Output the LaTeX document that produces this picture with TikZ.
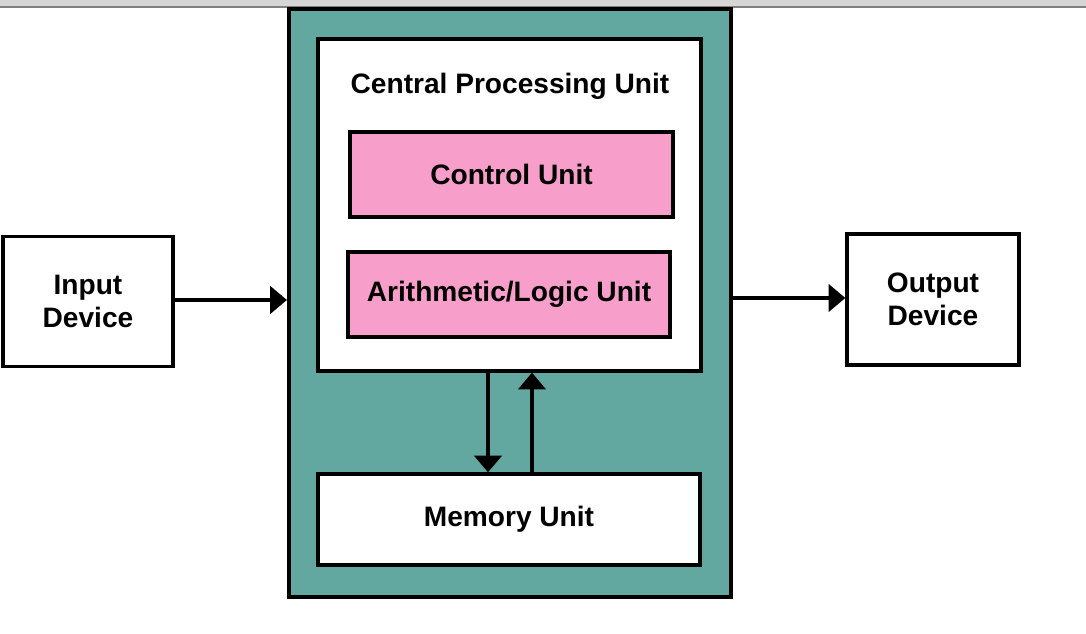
\documentclass[tikz,border=0pt]{standalone}
\usepackage{fontspec}
\setmainfont{Liberation Sans}
\usetikzlibrary{arrows.meta}

\definecolor{teal}{RGB}{99,168,160}
\definecolor{pink}{RGB}{248,158,202}
\definecolor{bar}{RGB}{214,214,214}

\tikzset{
    unit/.style={draw,line width=1.9pt,align=center,font=\bfseries\fontsize{16}{19}\selectfont,inner sep=0pt},
    flow/.style={line width=1.9pt,-{Triangle[length=9.5pt,width=15.5pt]}}
}

\begin{document}
\begin{tikzpicture}[x=0.02cm,y=-0.02cm]
            \useasboundingbox (0,0) rectangle (1086,634);
            \fill[bar] (0,0) rectangle (1086,7);
            \draw[gray,line width=0.6pt] (0,7)--(1086,7);
            % computer
            \node[unit,fill=teal,line width=2.4pt,minimum width=8.84cm,minimum height=11.76cm] (sys) at (510,303){};
            \node[unit,fill=white,minimum width=7.66cm,minimum height=6.64cm] (cpu) at (509.5,205){};
            \node[font=\bfseries\fontsize{16}{19}\selectfont] (title) at (510,86){Central Processing Unit};
            \node[unit,fill=pink,minimum width=6.46cm,minimum height=1.7cm] (cu) at (511.5,174.5){Control Unit};
            \node[unit,fill=pink,minimum width=6.44cm,minimum height=1.7cm] (alu) at (509,294.5){Arithmetic/Logic Unit};
            \node[unit,fill=white,minimum width=7.64cm,minimum height=1.82cm] (mem) at (509,519.5){Memory Unit};
            % devices
            \node[unit,fill=white,minimum width=3.4cm,minimum height=2.6cm] (in) at (88,301.5){Input\\Device};
            \node[unit,fill=white,minimum width=3.44cm,minimum height=2.62cm] (out) at (933,299.5){Output\\Device};
            \draw[flow] (in.east|-0,300)--(sys.west|-0,300);
            \draw[flow] (sys.east|-0,298)--(out.west|-0,298);
            \draw[flow] (cpu.south-|488,0)--(mem.north-|488,0);
            \draw[flow] (mem.north-|532,0)--(cpu.south-|532,0);
        \end{tikzpicture}
\end{document}
